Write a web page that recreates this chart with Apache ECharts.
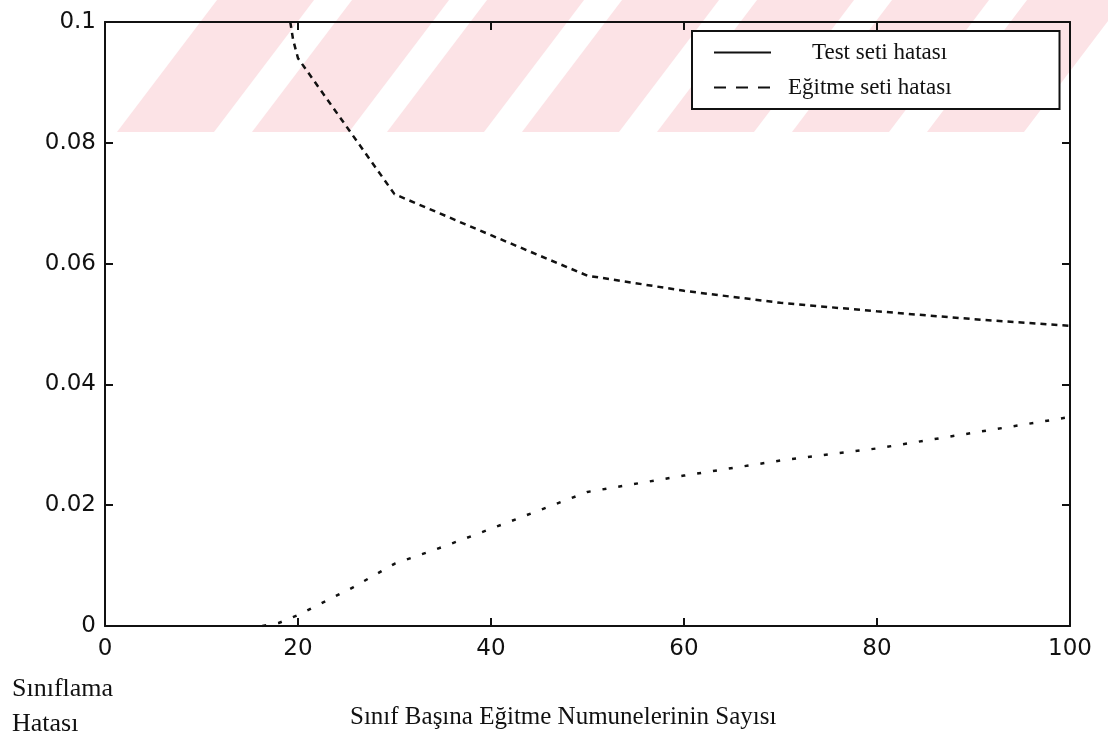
<!DOCTYPE html>
<html>
<head>
<meta charset="utf-8">
<script src="https://cdn.jsdelivr.net/npm/echarts@6/dist/echarts.min.js"></script>
<style>
  html, body { margin: 0; padding: 0; background: #fff; }
  #chart { width: 1108px; height: 736px; }
</style>
</head>
<body>
<div id="chart"></div>
<script>
// values
const testX = [19.2, 19.5, 20, 30, 40, 50, 60, 70, 80, 90, 100];
const testY = [0.1, 0.097, 0.094, 0.0715, 0.0647, 0.058, 0.0555, 0.0535, 0.0521, 0.0508, 0.0497];
const trainX = [16.3, 18, 20, 25.7, 30, 35, 40, 50, 60, 70, 80, 90, 100];
const trainY = [0, 0.0005, 0.0018, 0.0064, 0.0103, 0.0131, 0.0161, 0.0222, 0.0249, 0.0274, 0.0294, 0.032, 0.0346];
const seriesNames = ["Test seti hatası", "Eğitme seti hatası"];

const chart = echarts.init(document.getElementById("chart"));

const zip = (xs, ys) => xs.map((x, i) => [x, ys[i]]);

// pale red diagonal stripes of the scan watermark
const stripes = [];
for (let k = 0; k < 7; k++) {
  const x0 = 117 + k * 135;
  stripes.push({
    type: "polygon",
    z: -10,
    silent: true,
    shape: { points: [[x0, 132], [x0 + 97, 132], [x0 + 197, 0], [x0 + 100, 0]] },
    style: { fill: "#fce3e6" },
  });
}

const tickFont = { fontFamily: "DejaVu Sans", fontSize: 23, color: "#111" };
const frame = { show: true, onZero: false, lineStyle: { color: "#111", width: 2 } };
const inTick = { show: true, inside: true, length: 8, lineStyle: { color: "#111", width: 2 } };

chart.setOption({
  animation: false,
  backgroundColor: "#fff",
  grid: { left: 105, right: 38, top: 22, bottom: 110 },
  legend: {
    show: true,
    orient: "vertical",
    left: 692,
    top: 31,
    padding: [10, 108, 10, 21],
    itemWidth: 57,
    itemHeight: 16,
    itemGap: 12,
    borderColor: "#111",
    borderWidth: 2,
    backgroundColor: "#fff",
    itemStyle: { opacity: 0 },
    formatter: (name) => (name === seriesNames[0] ? "{g1|}" : "{g2|}") + "{t|" + name + "}",
    textStyle: {
      rich: {
        g1: { width: 36 },
        g2: { width: 12 },
        t: { fontFamily: "Liberation Serif", fontSize: 23, color: "#111" },
      },
    },
    data: [
      { name: seriesNames[0], lineStyle: { type: "solid", width: 2 } },
      { name: seriesNames[1], lineStyle: { type: [12, 10], width: 2 } },
    ],
  },
  xAxis: [
    {
      type: "value", min: 0, max: 100, interval: 20,
      axisLine: frame, axisTick: inTick, splitLine: { show: false },
      axisLabel: { ...tickFont, margin: 12 },
    },
    {
      type: "value", position: "top", min: 0, max: 100, interval: 20,
      axisLine: frame, axisTick: inTick, splitLine: { show: false }, axisLabel: { show: false },
    },
  ],
  yAxis: [
    {
      type: "value", min: 0, max: 0.1, interval: 0.02,
      axisLine: frame, axisTick: inTick, splitLine: { show: false },
      axisLabel: { ...tickFont, margin: 9, formatter: (v) => String(+v.toFixed(2)) },
    },
    {
      type: "value", position: "right", min: 0, max: 0.1, interval: 0.02,
      axisLine: frame, axisTick: inTick, splitLine: { show: false }, axisLabel: { show: false },
    },
  ],
  series: [
    {
      name: seriesNames[0],
      type: "line",
      data: zip(testX, testY),
      symbol: "none",
      lineStyle: { color: "#111", width: 2.5, type: [6, 5] },
      itemStyle: { color: "#111" },
    },
    {
      name: seriesNames[1],
      type: "line",
      data: zip(trainX, trainY),
      symbol: "none",
      lineStyle: { color: "#111", width: 2.5, type: [4, 12] },
      itemStyle: { color: "#111" },
    },
  ],
  graphic: [
    ...stripes,
    {
      type: "text", left: 12, top: 672,
      style: { text: "Sınıflama\nHatası", fontFamily: "Liberation Serif", fontSize: 26, lineHeight: 35, fill: "#111" },
    },
    {
      type: "text", left: 350, top: 705,
      style: { text: "Sınıf Başına Eğitme Numunelerinin Sayısı", fontFamily: "Liberation Serif", fontSize: 25, fill: "#111" },
    },
  ],
});

window.addEventListener("resize", () => chart.resize());
</script>
</body>
</html>
